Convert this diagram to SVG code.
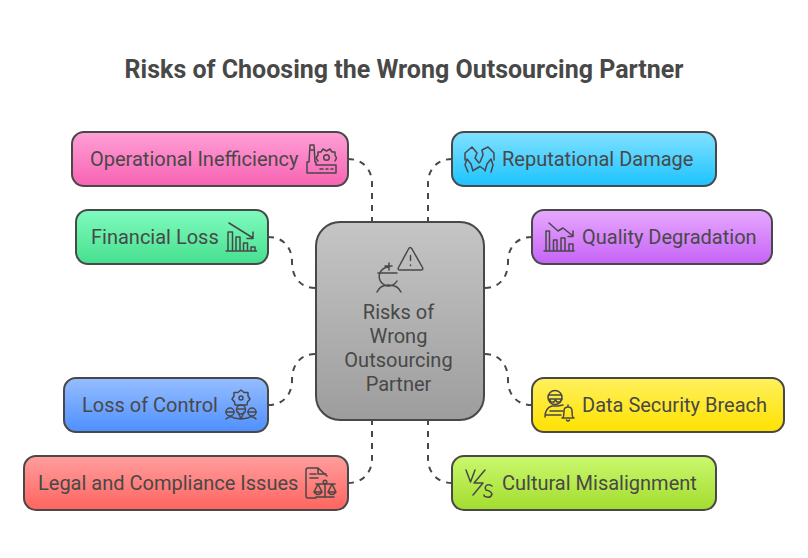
<svg xmlns="http://www.w3.org/2000/svg" width="808" height="558" viewBox="0 0 808 558">
<style>
text{font-family:Roboto,"Liberation Sans",sans-serif;fill:#484848;font-size:20px}
.t{font-size:25px;font-weight:700;text-anchor:middle}
.c{text-anchor:middle}
.b{stroke:#484848;stroke-width:2}
.i{fill:none;stroke:#484848;stroke-width:1.500;stroke-linecap:round;stroke-linejoin:round}
.l{fill:none;stroke:#484848;stroke-width:2;stroke-dasharray:6 6}
</style>
<defs>
<linearGradient id="gp" x1="0" y1="0" x2="0" y2="1"><stop offset="0" stop-color="#FF9FD6"/><stop offset="1" stop-color="#F863B3"/></linearGradient>
<linearGradient id="gg" x1="0" y1="0" x2="0" y2="1"><stop offset="0" stop-color="#80FBBF"/><stop offset="1" stop-color="#46DF8E"/></linearGradient>
<linearGradient id="gc" x1="0" y1="0" x2="0" y2="1"><stop offset="0" stop-color="#82E1FF"/><stop offset="1" stop-color="#1CC3FF"/></linearGradient>
<linearGradient id="gu" x1="0" y1="0" x2="0" y2="1"><stop offset="0" stop-color="#E7A9FF"/><stop offset="1" stop-color="#C663F6"/></linearGradient>
<linearGradient id="gb" x1="0" y1="0" x2="0" y2="1"><stop offset="0" stop-color="#96BEFF"/><stop offset="1" stop-color="#4E8FFF"/></linearGradient>
<linearGradient id="gr" x1="0" y1="0" x2="0" y2="1"><stop offset="0" stop-color="#FF9E9E"/><stop offset="1" stop-color="#FF645F"/></linearGradient>
<linearGradient id="gy" x1="0" y1="0" x2="0" y2="1"><stop offset="0" stop-color="#FFF05E"/><stop offset="1" stop-color="#FFE200"/></linearGradient>
<linearGradient id="gl" x1="0" y1="0" x2="0" y2="1"><stop offset="0" stop-color="#CAF86E"/><stop offset="1" stop-color="#A3DD2E"/></linearGradient>
<linearGradient id="gm" x1="0" y1="0" x2="0" y2="1"><stop offset="0" stop-color="#C5C5C5"/><stop offset="1" stop-color="#9D9D9D"/></linearGradient>
</defs>
<text id="title" class="t" x="404" y="78">Risks of Choosing the Wrong Outsourcing Partner</text>
<g id="connectors">
<path class="l" d="M348 159C362 159 372 169 372 183V222"/>
<path class="l" d="M268 237C283 237 292 247 292 262C292 278 301 288 316 288"/>
<path class="l" d="M452 159C438 159 428 169 428 183V222"/>
<path class="l" d="M532 237C517 237 508 247 508 262C508 278 499 288 484 288"/>
<path class="l" d="M268 405C283 405 292 395 292 380C292 364 301 354 316 354"/>
<path class="l" d="M348 483C362 483 372 473 372 459V420"/>
<path class="l" d="M532 405C517 405 508 395 508 380C508 364 499 354 484 354"/>
<path class="l" d="M452 483C438 483 428 473 428 459V420"/>
</g>
<g id="center">
<rect class="b" x="316" y="222" width="168" height="198" rx="24" fill="url(#gm)"/>
<path class="i" d="M408.500 249L398.500 267.500Q397.500 270 400 270H421Q423.500 270 422.500 267.500L412 249Q410 245.800 408.500 249ZM410.500 255.500V260.500M410.500 265V265.500"/>
<path class="i" d="M389 267A9.500 9.500 0 1 0 397 281M378 273H397M389 263V270M385 266H392M377 292Q380 285 388.500 285Q398 285 401 292"/>
<text class="c" x="398.500" y="319">Risks of</text>
<text class="c" x="398.500" y="343">Wrong</text>
<text class="c" x="398.500" y="367">Outsourcing</text>
<text class="c" x="398.500" y="391">Partner</text>
</g>
<g id="operational">
<rect class="b" x="72" y="132" width="276" height="54" rx="12" fill="url(#gp)"/>
<text x="90" y="166">Operational Inefficiency</text>
<path class="i" d="M307 173V162H309L310 145H314L315 162H316V165L336 165V173ZM310 150H314M320 169H323M326 169H328M331 169H333"/>
<path class="i" d="M318 161L316 158L318 155L318 152L321 152L323 149L326.500 151L330 149L332 152L335 152L335 155L336.500 158L335 161"/>
<circle class="i" cx="326.500" cy="157.500" r="2.800"/>
</g>
<g id="financial">
<rect class="b" x="76" y="210" width="192" height="54" rx="12" fill="url(#gg)"/>
<text x="91" y="244">Financial Loss</text>
<path class="i" d="M229 223L253 238M253 232V238.500H247M226 251H256.500M228 250V232H232.500V250M236 250V237H240V250M243.500 250V243H247.500V250M251 250V247H255V250"/>
</g>
<g id="reputational">
<rect class="b" x="452" y="132" width="264" height="54" rx="12" fill="url(#gc)"/>
<text x="502" y="166">Reputational Damage</text>
<path class="i" d="M465 160L465 153L472 147L477 153L475 158L479 163M494 160L494 153L488 147L482 150L483 155L480 162M468 172L465 165L467 159L471 164L473 171M491 172L493 165L491 159L487 164L485 171M474 170L480 166.500L485 170"/>
</g>
<g id="quality">
<rect class="b" x="532" y="210" width="240" height="54" rx="12" fill="url(#gu)"/>
<text x="582" y="244">Quality Degradation</text>
<path class="i" d="M549 223L558 231L563 228L573 236M573 231V236.500H568M544 251H574M546 250V231H549.500V250M553.500 250V240H557V250M561 250V238H565V250M569 250V244H573V250"/>
</g>
<g id="loss">
<rect class="b" x="64" y="378" width="204" height="54" rx="12" fill="url(#gb)"/>
<text x="82" y="412">Loss of Control</text>
<path class="i" d="M241 390L244 392.500L248 392.500L248 396L250 399L247.500 402L247 405H235L234.500 402L232 399L234 396L234 392.500L238 392.500Z"/>
<circle class="i" cx="241" cy="398" r="2"/>
<circle class="i" cx="230" cy="412" r="4"/>
<circle class="i" cx="241" cy="409.500" r="4.500"/>
<circle class="i" cx="252" cy="412" r="4"/>
<path class="i" d="M226 419Q230 415 234 418L241 419L248 418Q252 415 256 419M226 412H234M237 409H245M248 412H256M238 412L241 419M244 412L241 419"/>
</g>
<g id="legal">
<rect class="b" x="24" y="456" width="324" height="54" rx="12" fill="url(#gr)"/>
<text x="38" y="490">Legal and Compliance Issues</text>
<path class="i" d="M327 476L318 468H308Q306 468 306 470V496Q306 498 308 498H316M318 468V474H326M310 474H316M310 478H318"/>
<path class="i" d="M325 484V497M316 497H334M316 484H335M318 484L314 492H322ZM332 484L328 492H336ZM314 492Q318 497 322 492M328 492Q332 497 336 492"/>
<circle class="i" cx="325" cy="482" r="1.800"/>
</g>
<g id="security">
<rect class="b" x="532" y="378" width="252" height="54" rx="12" fill="url(#gy)"/>
<text x="582" y="412">Data Security Breach</text>
<circle class="i" cx="555" cy="397.500" r="7"/>
<path class="i" d="M549 395H561M549 399H562L560 402H557L555.500 400L554 402H551ZM545 417Q545 408 552 406H558L563 405M545 415H561M550 411H563"/>
<path class="i" d="M562 418H574M563 418Q564 416 564 411Q564 407 568 407Q572 407 572 411Q572 416 573 418M568 405V407M566.500 420Q568 422 569.500 420"/>
</g>
<g id="cultural">
<rect class="b" x="452" y="456" width="264" height="54" rx="12" fill="url(#gl)"/>
<text x="502" y="490">Cultural Misalignment</text>
<path class="i" d="M466 470L470.500 482L475 470M485 470L474 483H483L473 495M492 486Q490 484 487 485Q484 487 486 490Q491 491 492 494Q491 498 487 497Q484 497 484 495"/>
</g>
</svg>
